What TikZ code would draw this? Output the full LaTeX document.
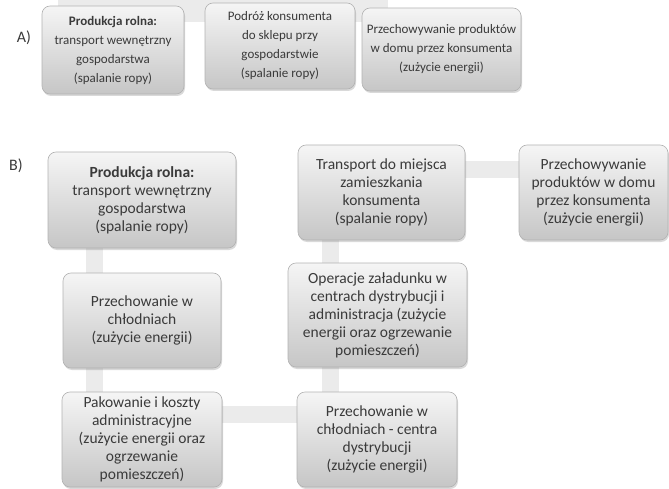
\documentclass[tikz,border=0pt]{standalone}
\usepackage{fontspec}
\setmainfont{Carlito}
\usetikzlibrary{shadows,backgrounds}
\begin{document}
\begin{tikzpicture}[x=1pt,y=-1pt,
 box/.style={draw=boxline,line width=0.6pt,rounded corners=8pt,top color=boxtop,bottom color=boxbottom,
  text=boxtext,align=center,inner sep=0pt,font=\fontsize{15.5}{18}\selectfont,
  drop shadow={shadow xshift=1pt,shadow yshift=-2pt,opacity=0.3}},
 smallbox/.style={box,font=\fontsize{13}{19}\selectfont},
 link/.style={draw=linkcolor,line width=17pt},
 tag/.style={text=boxtext,font=\fontsize{16}{18}\selectfont}]
 \definecolor{boxtop}{HTML}{F5F5F5}
 \definecolor{boxbottom}{HTML}{C6C6C6}
 \definecolor{boxline}{HTML}{B2B2B2}
 \definecolor{boxtext}{HTML}{3A3A3A}
 \definecolor{linkcolor}{HTML}{EBEBEB}
 \useasboundingbox (0,0) rectangle (669,489);
 % A) chain
 \node [tag] (lblA) at (24,38) {A)};
 \node [smallbox,minimum width=142pt,minimum height=88pt] (a1) at (113,50) {\textbf{Produkcja rolna:}\\transport wewnętrzny\\gospodarstwa\\(spalanie ropy)};
 \node [smallbox,minimum width=150pt,minimum height=86pt] (a2) at (280,46) {Podróż konsumenta\\do sklepu przy\\gospodarstwie\\(spalanie ropy)};
 \node [smallbox,minimum width=159pt,minimum height=83pt] (a3) at (441.5,49.5) {Przechowywanie produktów\\w domu przez konsumenta\\(zużycie energii)};
 % B) chain
 \node [tag] (lblB) at (16,166) {B)};
 \node [box,minimum width=188pt,minimum height=96pt] (b1) at (142,200) {\textbf{Produkcja rolna:}\\transport wewnętrzny\\gospodarstwa\\(spalanie ropy)};
 \node [box,minimum width=158pt,minimum height=95pt] (b2) at (142,320.5) {Przechowanie w\\chłodniach\\(zużycie energii)};
 \node [box,minimum width=160pt,minimum height=95pt] (b3) at (142,439.5) {Pakowanie i koszty\\administracyjne\\(zużycie energii oraz\\ogrzewanie\\pomieszczeń)};
 \node [box,minimum width=160pt,minimum height=95pt] (b4) at (377,439.5) {Przechowanie w\\chłodniach - centra\\dystrybucji\\(zużycie energii)};
 \node [box,minimum width=179pt,minimum height=104pt] (b5) at (377.5,315) {Operacje załadunku w\\centrach dystrybucji i\\administracja (zużycie\\energii oraz ogrzewanie\\pomieszczeń)};
 \node [box,minimum width=167pt,minimum height=95pt] (b6) at (381.5,192.5) {Transport do miejsca\\zamieszkania\\konsumenta\\(spalanie ropy)};
 \node [box,minimum width=149pt,minimum height=95pt] (b7) at (593.5,192.5) {Przechowywanie\\produktów w domu\\przez konsumenta\\(zużycie energii)};
 % connectors behind the boxes
 \begin{scope}[on background layer]
 \fill [linkcolor] ([xshift=16pt,yshift=6pt]a1.north west) rectangle ([xshift=26pt,yshift=-14pt]a3.north west);
 \draw [link] ([xshift=47pt]b1.south west) -- ([xshift=32pt]b2.north west);
 \draw [link] ([xshift=32pt]b2.south west) -- ([xshift=33pt]b3.north west);
 \draw [link] ([yshift=-23pt]b3.north east) -- ([yshift=-23pt]b4.north west);
 \draw [link] ([xshift=34pt]b4.north west) -- ([xshift=43pt]b5.south west);
 \draw [link] ([xshift=43pt]b5.north west) -- ([xshift=33pt]b6.south west);
 \draw [link] ([yshift=-25pt]b6.north east) -- ([yshift=-25pt]b7.north west);
 \end{scope}
\end{tikzpicture}
\end{document}
